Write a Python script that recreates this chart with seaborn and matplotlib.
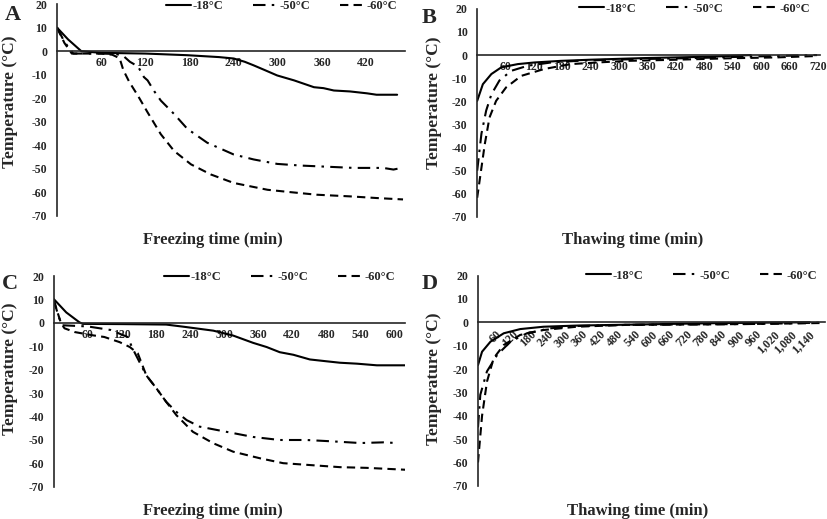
import numpy as np
import pandas as pd
import matplotlib
matplotlib.use("Agg")
import matplotlib.pyplot as plt
from matplotlib.ticker import FuncFormatter
import seaborn as sns

# ---- data (time in min, temperature in degC) ----
series_names = ["-18\u00b0C", "-50\u00b0C", "-60\u00b0C"]

# A: freezing
a_t18 = [0, 15, 33, 60, 120, 177, 220, 240, 255, 267, 282, 299, 322, 349, 362, 376, 398, 421, 434, 462]
a_v18 = [10, 5, 0, -0.7, -1.0, -1.7, -2.5, -3.1, -4.5, -6, -8, -10.3, -12.4, -15.3, -15.7, -16.7, -17.1, -17.9, -18.5, -18.5]
a_t50 = [0, 10, 22, 40, 60, 80, 90, 99, 110, 118, 123, 132, 141, 159, 177, 204, 240, 267, 299, 331, 367, 403, 443, 457, 468]
a_v50 = [10, 4, -1, -1, -1, -1.2, -2, -4.5, -6.5, -11, -12.4, -17, -21, -26.7, -33, -38.9, -43.9, -46, -47.9, -48.6, -49.1, -49.6, -49.6, -50.3, -49.6]
a_t60 = [0, 10, 20, 40, 60, 75, 85, 90, 98, 110, 123, 141, 159, 182, 209, 240, 286, 317, 353, 398, 434, 470]
a_v60 = [10, 3.5, -1, -1, -1, -1.5, -3, -8, -13, -19, -26, -35.3, -42.4, -48.1, -52.4, -56, -58.9, -59.9, -61, -61.7, -62.4, -63]

# B: thawing
b_t18 = [0, 12, 30, 51, 86, 121, 177, 240, 353, 493, 578]
b_v18 = [-19.8, -12.6, -8.2, -5.3, -3.9, -3.2, -2.5, -2.0, -1.3, -0.7, 0]
b_t50 = [0, 9, 19, 30, 47, 72, 107, 156, 212, 283, 353, 458, 564, 634, 718]
b_v50 = [-50, -34, -24, -17, -11, -6.8, -4.6, -3.2, -2.5, -2.0, -1.7, -1.3, -0.7, -0.4, 0]
b_t60 = [0, 9, 16, 26, 40, 61, 93, 142, 198, 254, 318, 423, 529, 634, 718]
b_v60 = [-61.7, -48.7, -38.6, -27, -19.8, -14, -9, -6, -3.9, -3.2, -2.5, -2.0, -1.4, -1.0, -0.4]

# C: freezing
c_t18 = [0, 22, 45, 51, 120, 198, 228, 281, 316, 351, 375, 398, 422, 451, 481, 504, 534, 569, 619]
c_v18 = [10.2, 4.5, 0.3, -0.4, -0.5, -0.7, -1.6, -3.3, -5.4, -8.5, -10.3, -12.5, -13.6, -15.6, -16.4, -17, -17.4, -18.1, -18.1]
c_t50 = [0, 8, 15, 60, 100, 130, 139, 151, 163, 181, 198, 216, 234, 257, 304, 351, 398, 445, 492, 540, 581, 604]
c_v50 = [10, 3, -1, -1.5, -3, -6, -11, -16.7, -22.4, -28, -33.7, -38, -41.5, -44.3, -46.5, -48.7, -50, -50, -50.6, -51.3, -51, -51.3]
c_t60 = [0, 13, 19, 37, 69, 89, 116, 134, 148, 163, 181, 198, 216, 245, 281, 316, 363, 404, 457, 504, 551, 619]
c_v60 = [9.6, -0.3, -2.3, -3.9, -5.3, -6, -8.2, -10.3, -13, -22.4, -28, -33.7, -39.4, -46.5, -51.4, -55, -57.8, -59.9, -60.8, -61.6, -61.9, -62.7]

# D: thawing
d_t18 = [0, 14, 43, 89, 146, 226, 341, 571, 801, 1031, 1146]
d_v18 = [-18.3, -12.6, -8.3, -4.7, -2.9, -1.9, -1.4, -0.9, -0.4, -0.1, 0]
d_t50 = [0, 8, 31, 66, 112, 169, 249, 341, 514, 744, 973, 1200]
d_v50 = [-45, -31, -21, -14, -8.3, -4.7, -2.6, -1.6, -1.1, -0.9, -0.7, -0.1]
d_t60 = [0, 2, 14, 31, 54, 89, 146, 226, 341, 514, 801, 1031, 1192]
d_v60 = [-60, -57, -40, -25.4, -15.4, -9.7, -5.4, -3.3, -1.9, -1.1, -0.9, -0.6, -0.3]

panel_letters = ["A", "B", "C", "D"]
x_labels = ["Freezing time (min)", "Thawing time (min)", "Freezing time (min)", "Thawing time (min)"]
x_limits = [473, 725, 619, 1200]
x_tick_max = [420, 720, 600, 1140]
y_ticks = list(range(-70, 30, 10))

sns.set_style("white")
plt.rcParams["font.family"] = ["Liberation Serif", "DejaVu Serif"]
plt.rcParams["font.weight"] = "bold"
plt.rcParams["axes.unicode_minus"] = False

line_styles = ["-", (0, (6, 3, 1.2, 3)), (0, (4, 2.5))]

panels = [
    [(a_t18, a_v18), (a_t50, a_v50), (a_t60, a_v60)],
    [(b_t18, b_v18), (b_t50, b_v50), (b_t60, b_v60)],
    [(c_t18, c_v18), (c_t50, c_v50), (c_t60, c_v60)],
    [(d_t18, d_v18), (d_t50, d_v50), (d_t60, d_v60)],
]

# axes rectangles in figure fraction (left, bottom, width, height)
rects = [
    (0.069, 0.584, 0.421, 0.408),
    (0.577, 0.582, 0.415, 0.401),
    (0.065, 0.062, 0.425, 0.406),
    (0.578, 0.064, 0.420, 0.405),
]
xlabel_pos = [(0.448, -0.075), (0.452, -0.072), (0.453, -0.076), (0.46, -0.081)]
ylabel_pos = [(-0.112, 0.54), (-0.102, 0.55), (-0.103, 0.56), (-0.104, 0.51)]
legend_pos = [(0.977, 0.99), (0.97, 1.0), (0.97, 0.995), (0.977, 1.0)]
letter_pos = [(0.006, 0.972), (0.510, 0.965), (0.002, 0.452), (0.510, 0.452)]

fig = plt.figure(figsize=(8.27, 5.19), dpi=100)

for i, series in enumerate(panels):
    ax = fig.add_axes(rects[i])
    for name, (t, v), ls in zip(series_names, series, line_styles):
        df = pd.DataFrame({"time": t, "temp": v})
        sns.lineplot(data=df, x="time", y="temp", ax=ax, color="black",
                     linewidth=1.5, linestyle=ls, label=name, sort=False,
                     errorbar=None)

    ax.set_xlim(0, x_limits[i])
    ax.set_ylim(-70, 20)
    ax.spines["top"].set_visible(False)
    ax.spines["right"].set_visible(False)
    ax.spines["bottom"].set_position(("data", 0))
    ax.spines["left"].set_linewidth(1.2)
    ax.spines["bottom"].set_linewidth(1.2)

    ax.set_yticks(y_ticks)
    ax.set_xticks(list(range(60, x_tick_max[i] + 1, 60)))
    ax.tick_params(axis="y", direction="out", length=3, width=1, labelsize=8.5, pad=4)
    ax.tick_params(axis="x", direction="inout", length=7, width=1, labelsize=8.5, pad=1)
    if i == 3:
        ax.xaxis.set_major_formatter(FuncFormatter(lambda x, p: f"{x:,.0f}"))
        for lab in ax.get_xticklabels():
            lab.set_rotation(45)
            lab.set_ha("right")
            lab.set_va("top")
            lab.set_rotation_mode("anchor")
    for lab in ax.get_xticklabels() + ax.get_yticklabels():
        lab.set_fontweight("bold")

    ax.set_xlabel(x_labels[i], fontsize=12, fontweight="bold")
    ax.set_ylabel("Temperature (\u00b0C)", fontsize=12.5, fontweight="bold")
    ax.xaxis.set_label_coords(*xlabel_pos[i])
    ax.yaxis.set_label_coords(*ylabel_pos[i])

    ax.legend(loc="center right", bbox_to_anchor=legend_pos[i], ncol=3,
              frameon=False, handlelength=2.0, handletextpad=0.1,
              columnspacing=2.4, borderaxespad=0, borderpad=0,
              prop={"size": 9, "weight": "bold"})

    fig.text(letter_pos[i][0], letter_pos[i][1], panel_letters[i],
             fontsize=16, fontweight="bold", ha="left", va="center")

fig.savefig("out.png", dpi=100)
